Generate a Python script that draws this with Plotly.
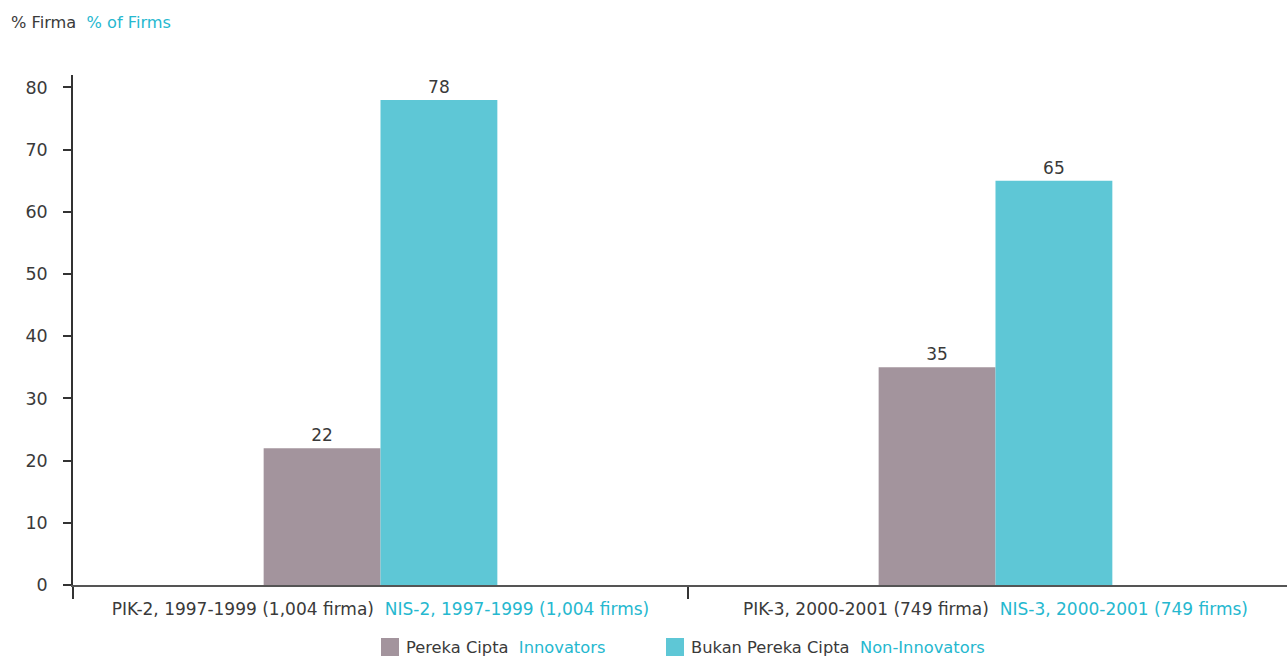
import plotly.graph_objects as go

# Survey rounds (Indonesian label, English label)
periods_id = ["PIK-2, 1997-1999 (1,004 firma)", "PIK-3, 2000-2001 (749 firma)"]
periods_en = ["NIS-2, 1997-1999 (1,004 firms)", "NIS-3, 2000-2001 (749 firms)"]

# Share of firms (%)
innovators = [22, 35]
non_innovators = [78, 65]

series_id = ["Pereka Cipta", "Bukan Pereka Cipta"]
series_en = ["Innovators", "Non-Innovators"]

DARK = "#3a3a3a"
TEAL = "#26b8cf"
MAUVE = "#a3949d"
CYAN = "#5ec7d6"
FONT = "DejaVu Sans"

# page geometry of the plotting area (pixels)
W, H = 1287, 657
L, R, T, B = 73, 0, 75, 72
PW, PH = W - L - R, H - T - B


def px_x(p):
    return (p - L) / PW


def px_y(p):
    return (H - B - p) / PH


def bilingual(a, b):
    return f"<span style='color:{DARK}'>{a}</span>  <span style='color:{TEAL}'>{b}</span>"


x = list(range(len(periods_id)))
colors = [MAUVE, CYAN]

fig = go.Figure()
for vals, color in zip([innovators, non_innovators], colors):
    fig.add_trace(go.Bar(
        x=x, y=vals,
        marker=dict(color=color, line=dict(width=0)),
        text=[str(v) for v in vals],
        textposition="outside",
        textfont=dict(family=FONT, size=17, color=DARK),
        cliponaxis=False,
        showlegend=False,
    ))

annotations = [dict(
    xref="paper", yref="paper", x=px_x(9), y=px_y(23),
    xanchor="left", yanchor="middle", showarrow=False,
    text=bilingual("% Firma", "% of Firms"),
    font=dict(family=FONT, size=16.2),
)]
shapes = []

# legend: coloured square followed by bilingual label
legend_left = [381, 666]
for i, color in enumerate(colors):
    x0 = legend_left[i]
    shapes.append(dict(
        type="rect", xref="paper", yref="paper",
        x0=px_x(x0), x1=px_x(x0 + 18), y0=px_y(656), y1=px_y(638),
        fillcolor=color, line=dict(width=0),
    ))
    annotations.append(dict(
        xref="paper", yref="paper", x=px_x(x0 + 23), y=px_y(647),
        xanchor="left", yanchor="middle", showarrow=False,
        text=bilingual(series_id[i], series_en[i]),
        font=dict(family=FONT, size=16.3),
    ))

fig.update_layout(
    width=W, height=H,
    margin=dict(l=L, r=R, t=T, b=B, autoexpand=False),
    paper_bgcolor="white", plot_bgcolor="white",
    barmode="group", bargap=0.62, bargroupgap=0,
    font=dict(family=FONT, size=17, color=DARK),
    showlegend=False,
    annotations=annotations,
    shapes=shapes,
)

fig.update_xaxes(
    range=[-0.5, 1.474],
    tickvals=x,
    ticktext=[bilingual(a, b) for a, b in zip(periods_id, periods_en)],
    ticks="", tickfont=dict(family=FONT, size=17),
    ticklabelstandoff=8,
    showline=True, linecolor="#555555", linewidth=2,
    showgrid=False, zeroline=False, automargin=False,
    minor=dict(tickvals=[-0.5, 0.5], ticks="outside", ticklen=12,
               tickcolor="#333333", tickwidth=1.5),
)
fig.update_yaxes(
    range=[0, 82],
    tickvals=[0, 10, 20, 30, 40, 50, 60, 70, 80],
    ticks="outside", ticklen=8, tickcolor="#333333", tickwidth=1.5,
    tickfont=dict(family=FONT, size=17.5, color=DARK),
    ticklabelstandoff=12,
    showline=True, linecolor="#333333", linewidth=1.5,
    showgrid=False, zeroline=False, automargin=False,
)

fig.write_html("out.html")
